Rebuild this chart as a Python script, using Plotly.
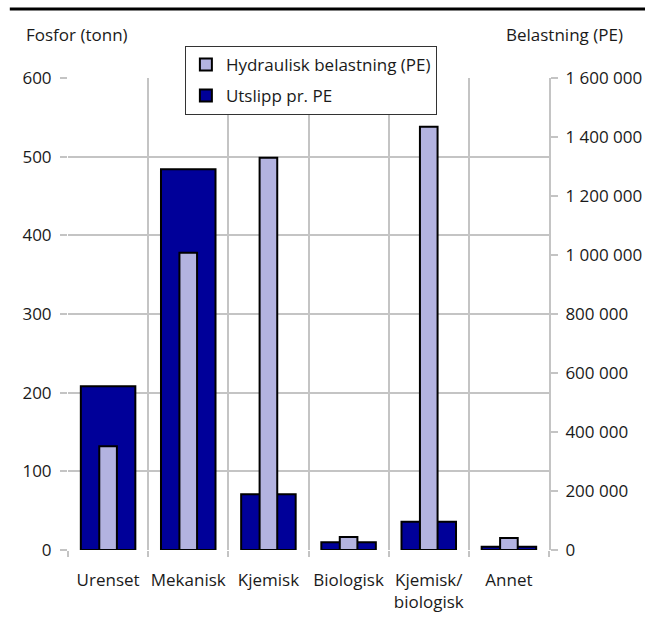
"""Fosfor utslipp og hydraulisk belastning etter renseprinsipp."""
import plotly.graph_objects as go

categories = ['Urenset', 'Mekanisk', 'Kjemisk', 'Biologisk', 'Kjemisk/<br>biologisk', 'Annet']
utslipp_tonn = [208, 484, 71, 10, 36, 4]
belastning_pe = [352000, 1008000, 1330000, 44000, 1435000, 41000]

left_ticks = [0, 100, 200, 300, 400, 500, 600]
right_ticks = [0, 200000, 400000, 600000, 800000, 1000000, 1200000, 1400000, 1600000]

FONT = 'Open Sans'
GRID = '#c4c4c4'

fig = go.Figure()

# light bars on the secondary axis (drawn on top)
fig.add_trace(go.Bar(x=categories, y=belastning_pe, name='Hydraulisk belastning (PE)',
                     yaxis='y2', width=0.22, legendgroup='a',
                     marker=dict(color='#b3b3e0', line=dict(color='black', width=2))))
fig.add_trace(go.Bar(x=categories, y=utslipp_tonn, name='Utslipp pr. PE',
                     yaxis='y', width=0.68, legendgroup='b',
                     marker=dict(color='#000099', line=dict(color='black', width=2))))

fig.update_layout(
    width=645, height=635,
    margin=dict(l=68, r=96, t=78, b=85),
    paper_bgcolor='white', plot_bgcolor='white',
    barmode='overlay',
    separators=', ',
    font=dict(family=FONT, size=17, color='#1a1a1a'),
    showlegend=True,
    legend=dict(x=0.243, y=1.068, xanchor='left', yanchor='top', itemwidth=30,
                bgcolor='white', bordercolor='#333', borderwidth=1,
                tracegroupgap=6, font=dict(size=17)),
    xaxis=dict(type='category', tickson='boundaries', showgrid=True, gridcolor=GRID,
               gridwidth=2, ticks='outside', ticklen=6, tickcolor=GRID, tickwidth=2,
               tickangle=0, automargin=False,
               ticklabelstandoff=18, showline=False, range=[-0.5, 5.5]),
    yaxis=dict(range=[0, 600], tickvals=left_ticks, showgrid=True, gridcolor=GRID, gridwidth=2,
               zeroline=False, ticks='outside', ticklen=7, tickcolor=GRID, tickwidth=2,
               showline=False, ticklabelstandoff=5, automargin=False),
    yaxis2=dict(range=[0, 1600000], tickvals=right_ticks, overlaying='y', side='right',
                showgrid=False, zeroline=False, ticks='outside', ticklen=7, tickcolor=GRID,
                tickwidth=2, showline=True, linecolor=GRID, linewidth=2, tickformat=',.0f',
                ticklabelstandoff=4, automargin=False),
)

# axis captions, horizontal above each axis
fig.add_annotation(text='Fosfor (tonn)', xref='paper', yref='paper', x=-0.092, y=1.092,
                   xanchor='left', yanchor='middle', showarrow=False, font=dict(size=17))
fig.add_annotation(text='Belastning (PE)', xref='paper', yref='paper', x=1.157, y=1.092,
                   xanchor='right', yanchor='middle', showarrow=False, font=dict(size=17))

# black rule at the top
fig.add_shape(type='line', xref='paper', yref='paper', x0=-0.121, x1=1.2, y0=1.146, y1=1.146,
              layer='above', line=dict(color='black', width=3))

# drop the default page margin so the figure sits at 0,0
fig.write_html("out.html", config={'displayModeBar': False},
               post_script="document.body.style.margin='0px';")
